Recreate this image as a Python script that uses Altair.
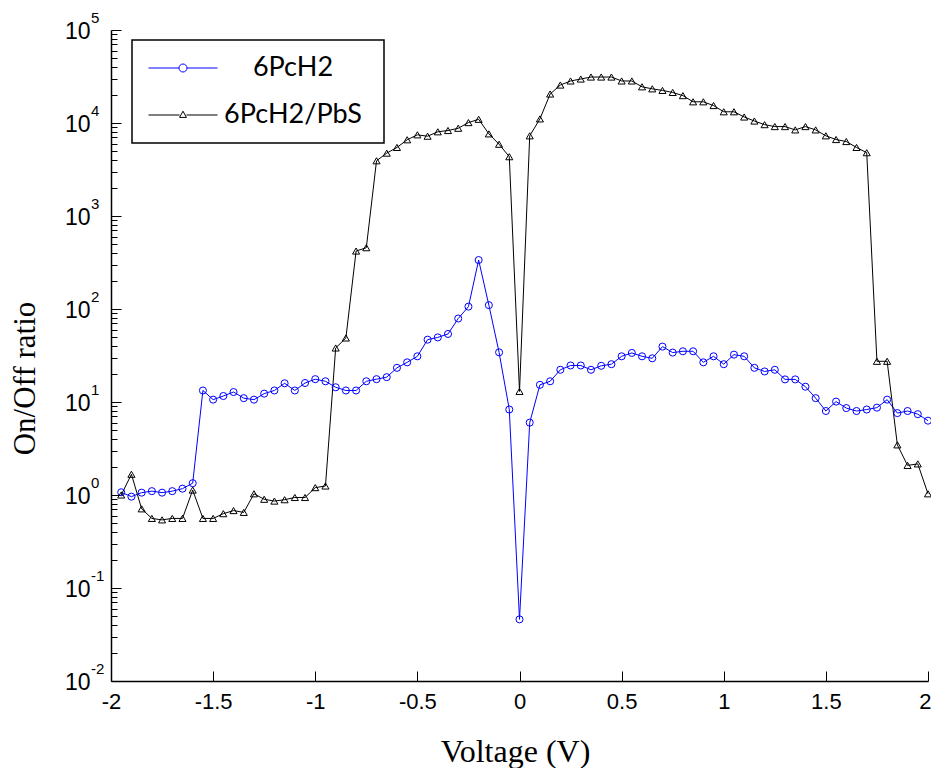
import altair as alt
import pandas as pd

# ---------------- data ----------------
voltage = [-1.95, -1.90, -1.85, -1.80, -1.75, -1.70, -1.65, -1.60, -1.55, -1.50,
           -1.45, -1.40, -1.35, -1.30, -1.25, -1.20, -1.15, -1.10, -1.05, -1.00,
           -0.95, -0.90, -0.85, -0.80, -0.75, -0.70, -0.65, -0.60, -0.55, -0.50,
           -0.45, -0.40, -0.35, -0.30, -0.25, -0.20, -0.15, -0.10, -0.05, 0.00,
           0.05, 0.10, 0.15, 0.20, 0.25, 0.30, 0.35, 0.40, 0.45, 0.50,
           0.55, 0.60, 0.65, 0.70, 0.75, 0.80, 0.85, 0.90, 0.95, 1.00,
           1.05, 1.10, 1.15, 1.20, 1.25, 1.30, 1.35, 1.40, 1.45, 1.50,
           1.55, 1.60, 1.65, 1.70, 1.75, 1.80, 1.85, 1.90, 1.95, 2.00]

ratio_6pch2 = [1.07, 0.96, 1.06, 1.10, 1.06, 1.10, 1.17, 1.34, 13.3, 10.6,
               11.6, 12.8, 11.0, 10.6, 12.3, 13.3, 15.9, 13.3, 16.0, 17.6,
               16.7, 14.4, 13.3, 13.3, 16.7, 17.6, 18.5, 23.3, 26.7, 31.0,
               46.8, 49.5, 53.9, 79.0, 106.0, 336.0, 110.0, 34.2, 8.3, 0.046,
               6.0, 15.3, 16.7, 22.2, 24.7, 24.7, 22.2, 24.5, 25.5, 31.0,
               33.7, 31.0, 29.5, 39.4, 34.0, 35.1, 35.1, 26.7, 31.0, 25.5,
               32.3, 31.0, 23.3, 21.3, 22.2, 17.5, 17.5, 14.6, 11.0, 8.0,
               10.1, 8.6, 8.0, 8.3, 8.7, 10.6, 7.6, 8.0, 7.4, 6.3]

ratio_6pch2_pbs = [1.0, 1.67, 0.71, 0.56, 0.54, 0.56, 0.56, 1.13, 0.56, 0.56,
                   0.63, 0.68, 0.65, 1.03, 0.90, 0.86, 0.89, 0.94, 0.94, 1.20,
                   1.25, 38.1, 48.8, 420, 456, 3925, 4740, 5460, 6600, 7460,
                   7210, 8040, 8300, 8780, 10100, 10960, 7640, 5910, 4340, 13.0,
                   7280, 11070, 20500, 25600, 28300, 29700, 31200, 31200, 31200, 28300,
                   28300, 24500, 23300, 22400, 21300, 19700, 16900, 16900, 15400, 13200,
                   13200, 11600, 10500, 9600, 9150, 9150, 8430, 9150, 8430, 7280,
                   6640, 6320, 5460, 4790, 27.4, 27.4, 3.46, 2.08, 2.16, 1.03]

series_names = ["6PcH2", "6PcH2/PbS"]
series_colors = ["#0000ff", "#000000"]

x_ticks = [-2, -1.5, -1, -0.5, 0, 0.5, 1, 1.5, 2]
y_major = [1e-2, 1e-1, 1, 10, 100, 1000, 1e4, 1e5]
y_exponents = ["-2", "-1", "0", "1", "2", "3", "4", "5"]
y_minor = [m * d for d in [1e-2, 1e-1, 1, 10, 100, 1000, 1e4] for m in range(2, 10)]

n = len(voltage)
df = pd.DataFrame({
    "V": voltage + voltage,
    "ratio": ratio_6pch2 + ratio_6pch2_pbs,
    "series": [series_names[0]] * n + [series_names[1]] * n,
})
exp_df = pd.DataFrame({"value": y_major, "exp": y_exponents})

# ---------------- layout ----------------
W, H = 817, 651
xscale = alt.Scale(domain=[-2, 2], nice=False, zero=False)
yscale = alt.Scale(type="log", domain=[0.01, 100000], nice=False)

def cscale():
    return alt.Scale(domain=series_names, range=series_colors)

# legend symbols: line with marker (custom paths in -1..1 units)
r = 0.116
circle_path = (f"M-1,0H{-r}M{r},0H1M{r},0A{r},{r} 0 1 1 {-r},0A{r},{r} 0 1 1 {r},0")
tri_path = "M-1,0H-0.1M0.1,0H1M-0.1,0.07L0.1,0.07L0,-0.11Z"

legend = alt.Legend(
    title=".", titleOrient="right", titleOpacity=0, titleFontSize=10, titlePadding=9,
    orient="none", legendX=21, legendY=10, direction="vertical",
    strokeColor="black", fillColor="white", padding=10, clipHeight=36,
    symbolSize=4761, symbolStrokeWidth=1, symbolOffset=6,
    labelFont="Lato", labelFontSize=27, labelColor="black",
    labelAlign="center", labelOffset=75,
    rowPadding=11, labelLimit=0,
)

lines = alt.Chart(df).mark_line(strokeWidth=1).encode(
    x=alt.X("V:Q", scale=xscale, axis=alt.Axis(
        orient="bottom", values=x_ticks, ticks=False, tickSize=0, grid=False,
        domainColor="black", domainWidth=1.5,
        labelExpr="datum.value + ''", labelFont="Liberation Sans", labelFontSize=22,
        labelColor="black", labelPadding=10, labelFlush=False,
        labelAlign={"condition": {"test": "datum.value == 2", "value": "right"}, "value": "center"},
        labelOffset={"condition": {"test": "datum.value == 2", "value": 3}, "value": 0},
        title="Voltage (V)", titleFont="Liberation Serif", titleFontSize=32,
        titleFontWeight="normal", titleColor="black", titleX=404, titleY=80,
        titleBaseline="alphabetic", titleAlign="center")),
    y=alt.Y("ratio:Q", scale=yscale, axis=alt.Axis(
        orient="left", values=y_major, ticks=False, tickSize=0, grid=False,
        domainColor="black", domainWidth=1.5,
        labelExpr="'10'", labelFont="Liberation Sans", labelFontSize=23,
        labelColor="black", labelPadding=21, labelOffset=1, labelFlush=False,
        title="On/Off ratio", titleFont="Liberation Serif", titleFontSize=31,
        titleFontWeight="normal", titleColor="black", titleAngle=-90,
        titleX=-77, titleY=348, titleBaseline="alphabetic", titleAlign="center")),
    color=alt.Color("series:N", scale=cscale(), legend=None),
)

points = alt.Chart(df).mark_point(filled=False, size=50, strokeWidth=1, opacity=1).encode(
    x=alt.X("V:Q", scale=xscale, axis=alt.Axis(
        orient="top", offset=-H, values=x_ticks, ticks=True, tickSize=10,
        tickColor="black", tickWidth=1, domain=False, labels=False, title=None, grid=False)),
    y=alt.Y("ratio:Q", scale=yscale, axis=alt.Axis(
        orient="right", offset=-W, values=y_major, ticks=True, tickSize=10,
        tickColor="black", tickWidth=1, domain=False, labels=False, title=None, grid=False)),
    color=alt.Color("series:N", scale=cscale(), legend=None),
    shape=alt.Shape("series:N", scale=alt.Scale(domain=series_names,
                                                range=["circle", "triangle-up"]), legend=None),
)

ghost = alt.Chart(df).transform_filter("false").mark_point(
    filled=False, size=4761, strokeWidth=1, opacity=1).encode(
    y=alt.Y("ratio:Q", scale=yscale, axis=alt.Axis(
        orient="right", offset=-W, values=y_minor, ticks=True, tickSize=6,
        tickColor="black", tickWidth=1, domain=False, labels=False, title=None, grid=False)),
    color=alt.Color("series:N", scale=cscale(), legend=legend),
    shape=alt.Shape("series:N", scale=alt.Scale(domain=series_names,
                                                range=[circle_path, tri_path]), legend=legend),
)

expo = alt.Chart(exp_df).mark_text(
    align="left", baseline="alphabetic", font="Liberation Sans", fontSize=15,
    dy=-7, color="black").encode(
    y=alt.Y("value:Q", scale=yscale, axis=None),
    x=alt.value(-20),
    text="exp:N",
)

chart = alt.layer(lines, points, ghost, expo).resolve_axis(
    x="independent", y="independent"
).resolve_scale(
    color="independent", shape="independent"
).properties(
    width=W, height=H,
    autosize=alt.AutoSizeParams(type="none"),
    padding={"left": 103, "top": 22, "right": 3, "bottom": 87},
    background="white",
).configure_view(stroke=None).configure_legend(strokeWidth=1.5)

chart.save("out.html", embed_options={"renderer": "svg", "actions": False})
